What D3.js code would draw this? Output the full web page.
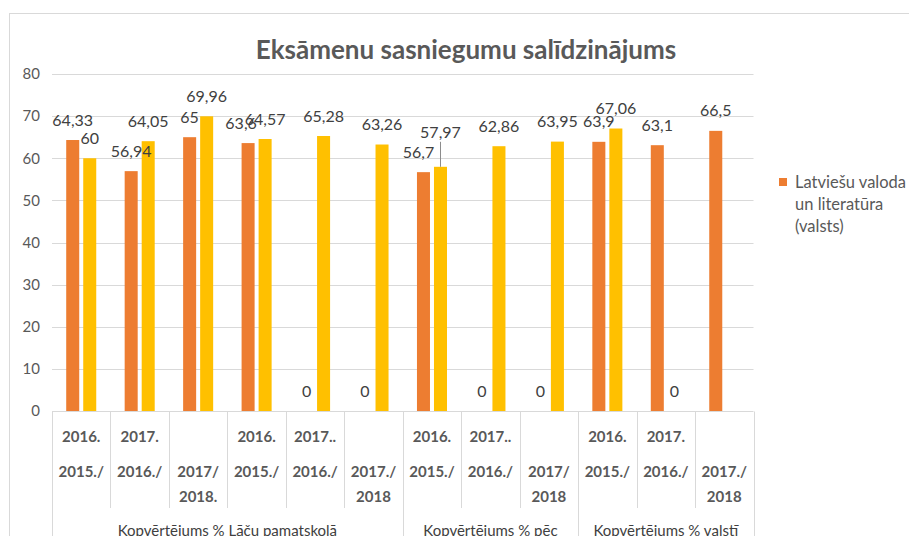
<!DOCTYPE html>
<html>
<head>
<meta charset="utf-8">
<script src="https://cdn.jsdelivr.net/npm/d3@7"></script>
<style>
  body { margin: 0; background: #fff; }
  text { font-family: Lato, "Open Sans", sans-serif; }
</style>
</head>
<body>
<svg id="chart"></svg>
<script>
var width = 909,
    height = 536;

// category labels, one array per row of the wrapped axis text
var labelRow1 = ["2016.", "2017.", "", "2016.", "2017..", "", "2016.", "2017..", "", "2016.", "2017.", ""];
var labelRow2 = ["2015./", "2016./", "2017/", "2015./", "2016./", "2017./", "2015./", "2016./", "2017/", "2015./", "2016./", "2017./"];
var labelRow3 = ["", "", "2018.", "", "", "2018", "", "", "2018", "", "", "2018"];

var groupNames = ["Kopvērtējums % Lāču pamatskolā", "Kopvērtējums % pēc", "Kopvērtējums % valstī"];
var groupSizes = [6, 3, 3];

var seriesNames = ["Latviešu valoda un literatūra (valsts)", "Latviešu valoda un literatūra (skola)"];
var orangeValues = [64.33, 56.94, 65, 63.6, 0, 0, 56.7, 0, 0, 63.9, 63.1, 66.5];
var yellowValues = [60, 64.05, 69.96, 64.57, 65.28, 63.26, 57.97, 62.86, 63.95, 67.06, 0, null];

var yTicks = [0, 10, 20, 30, 40, 50, 60, 70, 80];
var colors = ["#ED7D31", "#FFC000"];

var margin = { left: 52, right: 156, top: 74, bottom: 125 };

var svg = d3.select("#chart").attr("width", width).attr("height", height);

// chart frame
svg.append("rect")
  .attr("x", 9.5).attr("y", 13.5)
  .attr("width", width + 20).attr("height", height)
  .attr("fill", "none").attr("stroke", "#d9d9d9");

var x0 = d3.scaleBand()
  .domain(d3.range(orangeValues.length))
  .range([margin.left, width - margin.right + 0.5]);

var x1 = d3.scaleBand()
  .domain([0, 1])
  .range([0, x0.bandwidth()])
  .paddingInner(0.235)
  .paddingOuter(0.835);

var y = d3.scaleLinear()
  .domain([0, 80])
  .range([height - margin.bottom, margin.top]);

// gridlines
svg.append("g").selectAll("line")
  .data(yTicks.filter(function(d) { return d > 0; }))
  .enter().append("line")
  .attr("x1", margin.left).attr("x2", x0.range()[1])
  .attr("y1", function(d) { return Math.round(y(d)) + 0.5; })
  .attr("y2", function(d) { return Math.round(y(d)) + 0.5; })
  .attr("stroke", "#d9d9d9");

// y axis labels
svg.append("g").selectAll("text")
  .data(yTicks)
  .enter().append("text")
  .attr("x", 40)
  .attr("y", function(d) { return y(d); })
  .attr("dy", "0.35em")
  .attr("text-anchor", "end")
  .attr("fill", "#595959")
  .style("font-size", "15px")
  .text(function(d) { return d; });

// bars
var rows = orangeValues.map(function(v, i) {
  return [{ i: i, s: 0, v: v }, { i: i, s: 1, v: yellowValues[i] }];
});

var bars = svg.append("g").selectAll("g")
  .data(rows)
  .enter().append("g")
  .attr("transform", function(d, i) { return "translate(" + x0(i) + ",0)"; });

bars.selectAll("rect")
  .data(function(d) { return d.filter(function(e) { return e.v !== null; }); })
  .enter().append("rect")
  .attr("x", function(d) { return x1(d.s); })
  .attr("width", x1.bandwidth())
  .attr("y", function(d) { return y(d.v); })
  .attr("height", function(d) { return y(0) - y(d.v); })
  .attr("fill", function(d) { return colors[d.s]; });

// data labels (a couple were dragged by hand in the original)
function nudge(d) {
  if (d.i === 6 && d.s === 1) return [0, -14];
  if (d.i === 6 && d.s === 0) return [-5, 0];
  if (d.i === 3 && d.s === 0) return [-7, 0];
  return [0, 0];
}

var allPoints = [].concat.apply([], rows).filter(function(d) { return d.v !== null; });

svg.append("g").selectAll("line")
  .data(allPoints.filter(function(d) { return nudge(d)[1] < 0; }))
  .enter().append("line")
  .attr("x1", function(d) { return Math.round(x0(d.i) + x1(d.s) + x1.bandwidth() / 2) + 0.5; })
  .attr("x2", function(d) { return Math.round(x0(d.i) + x1(d.s) + x1.bandwidth() / 2) + 0.5; })
  .attr("y1", function(d) { return y(d.v) - 25; })
  .attr("y2", function(d) { return y(d.v); })
  .attr("stroke", "#8c8c8c");

svg.append("g").selectAll("text")
  .data(allPoints)
  .enter().append("text")
  .attr("x", function(d) { return x0(d.i) + x1(d.s) + x1.bandwidth() / 2 + nudge(d)[0]; })
  .attr("y", function(d) { return y(d.v) - 20 + nudge(d)[1]; })
  .attr("dy", "0.35em")
  .attr("text-anchor", "middle")
  .attr("fill", "#404040")
  .style("font-size", "16px")
  .text(function(d) { return String(d.v).replace(".", ","); });

// x axis baseline and separators
var axisY = Math.round(y(0)) + 0.5;
svg.append("line")
  .attr("x1", margin.left).attr("x2", x0.range()[1])
  .attr("y1", axisY).attr("y2", axisY)
  .attr("stroke", "#d9d9d9");

var groupEdges = [0];
groupSizes.forEach(function(n, k) { groupEdges.push(groupEdges[k] + n); });

svg.append("g").selectAll("line")
  .data(d3.range(orangeValues.length + 1))
  .enter().append("line")
  .attr("x1", function(i) { return Math.round(i < orangeValues.length ? x0(i) : x0.range()[1]) + 0.5; })
  .attr("x2", function(i) { return Math.round(i < orangeValues.length ? x0(i) : x0.range()[1]) + 0.5; })
  .attr("y1", axisY)
  .attr("y2", function(i) { return groupEdges.indexOf(i) >= 0 ? height : 508; })
  .attr("stroke", "#d9d9d9");

// category labels
var labelRows = [labelRow1, labelRow2, labelRow3];
var rowY = [437, 472, 497];
labelRows.forEach(function(row, r) {
  svg.append("g").selectAll("text")
    .data(row)
    .enter().append("text")
    .attr("x", function(d, i) { return x0(i) + x0.bandwidth() / 2; })
    .attr("y", rowY[r])
    .attr("dy", "0.35em")
    .attr("text-anchor", "middle")
    .attr("fill", "#595959")
    .style("font-size", "15px")
    .style("font-weight", "bold")
    .text(function(d) { return d; });
});

// group labels (cut by the bottom edge, as in the original)
svg.append("g").selectAll("text")
  .data(groupNames)
  .enter().append("text")
  .attr("x", function(d, k) {
    var a = x0(groupEdges[k]);
    var b = groupEdges[k + 1] < orangeValues.length ? x0(groupEdges[k + 1]) : x0.range()[1];
    return (a + b) / 2;
  })
  .attr("y", 531)
  .attr("dy", "0.35em")
  .attr("text-anchor", "middle")
  .attr("fill", "#404040")
  .style("font-size", "15px")
  .text(function(d) { return d; });

// title
svg.append("text")
  .attr("x", 466)
  .attr("y", 50)
  .attr("dy", "0.35em")
  .attr("text-anchor", "middle")
  .attr("fill", "#595959")
  .style("font-size", "26px")
  .style("font-weight", "bold")
  .text("Eksāmenu sasniegumu salīdzinājums");

// legend (only the first series is shown)
var legend = svg.append("g").attr("transform", "translate(779,182)");
legend.append("rect")
  .attr("x", 0).attr("y", -4)
  .attr("width", 8).attr("height", 8)
  .attr("fill", colors[0]);
legend.append("text")
  .attr("x", 16).attr("y", 0)
  .attr("fill", "#595959")
  .style("font-size", "16.5px")
  .selectAll("tspan")
  .data(["Latviešu valoda", "un literatūra", "(valsts)"])
  .enter().append("tspan")
  .attr("x", 16)
  .attr("dy", function(d, i) { return i === 0 ? "0.35em" : "22px"; })
  .text(function(d) { return d; });
</script>
</body>
</html>
